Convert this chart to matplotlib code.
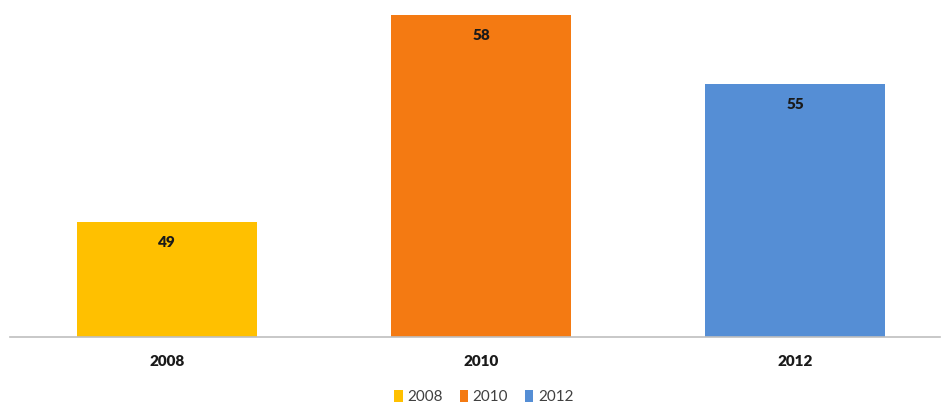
import matplotlib.pyplot as plt
from matplotlib.patches import Patch

# survey years and their scores
years = ['2008', '2010', '2012']
scores = [49, 58, 55]
colors = ['#FFC000', '#F47A12', '#558ED5']

plt.rcParams['font.family'] = ['Lato', 'DejaVu Sans']

fig = plt.figure(figsize=(9.41, 4.04), dpi=100)
ax = fig.add_axes([10 / 941, 67 / 404, 930 / 941, 332 / 404])

x = range(len(years))
bars = ax.bar(x, scores, width=0.573, color=colors, zorder=2)

ax.set_xlim(-0.5, 2.46)
ax.set_ylim(44, 44 + 332 / 23)

# value labels just inside the top of each bar
for xi, v in zip(x, scores):
    ax.annotate(str(v), (xi, v), xytext=(0, -14.5), textcoords='offset points',
                ha='center', va='center', fontsize=11, fontweight='heavy', color='#1a1a1a')

for side in ['top', 'right', 'left']:
    ax.spines[side].set_visible(False)
ax.spines['bottom'].set_color('#BFBFBF')
ax.spines['bottom'].set_linewidth(1.2)
ax.set_yticks([])
ax.set_xticks(list(x))
ax.set_xticklabels(years, fontsize=11, fontweight='heavy', color='#1a1a1a')
ax.tick_params(axis='x', length=0, pad=13)

handles = [Patch(facecolor=c, label=y) for c, y in zip(colors, years)]
fig.legend(handles=handles, loc='center', bbox_to_anchor=(484 / 941, 1 - 397 / 404),
           ncol=3, frameon=False, fontsize=11, handlelength=0.55, handleheight=0.9,
           handletextpad=0.3, columnspacing=1.1, labelcolor='#404040')

fig.savefig('out.png', dpi=100)
